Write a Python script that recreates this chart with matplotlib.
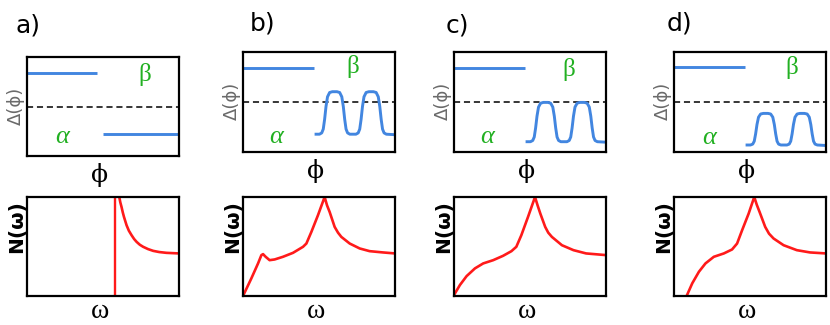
import matplotlib
matplotlib.use("Agg")
import matplotlib.pyplot as plt

W, H = 830, 325

panel_labels = ["a)", "b)", "c)", "d)"]

# ---- top panels: gap function Delta(phi) (axes-fraction units) ----
beta_line_x = [[0.0, 0.463], [0.0, 0.465], [0.0, 0.468], [0.0, 0.466]]
beta_line_y = [0.839, 0.833, 0.833, 0.85]
dash_level = [0.49, 0.493, 0.493, 0.50]

# panel a: flat alpha gap
alpha_a_x = [0.502, 1.0]
alpha_a_y = [0.221, 0.221]

# panels b-d: oscillating alpha gap
osc_x = [0.471, 0.503, 0.518, 0.528, 0.537, 0.546, 0.556, 0.570, 0.588, 0.618,
         0.636, 0.650, 0.660, 0.669, 0.678, 0.688, 0.703, 0.743, 0.758, 0.768,
         0.777, 0.786, 0.796, 0.810, 0.828, 0.858, 0.876, 0.890, 0.900, 0.909,
         0.918, 0.928, 0.943, 1.0]
osc_b = [0.175, 0.175, 0.188, 0.226, 0.324, 0.451, 0.549, 0.592, 0.600, 0.600,
         0.592, 0.549, 0.451, 0.324, 0.226, 0.188, 0.175, 0.175, 0.188, 0.226,
         0.324, 0.451, 0.549, 0.592, 0.600, 0.600, 0.592, 0.549, 0.451, 0.324,
         0.226, 0.188, 0.175, 0.170]
osc_c = [0.100, 0.100, 0.112, 0.147, 0.238, 0.355, 0.446, 0.485, 0.493, 0.493,
         0.485, 0.446, 0.355, 0.238, 0.147, 0.112, 0.100, 0.100, 0.112, 0.147,
         0.238, 0.355, 0.446, 0.485, 0.493, 0.493, 0.485, 0.446, 0.355, 0.238,
         0.147, 0.112, 0.100, 0.095]
osc_d = [0.067, 0.067, 0.076, 0.105, 0.178, 0.272, 0.345, 0.377, 0.383, 0.383,
         0.377, 0.345, 0.272, 0.178, 0.105, 0.076, 0.067, 0.067, 0.076, 0.105,
         0.178, 0.272, 0.345, 0.377, 0.383, 0.383, 0.377, 0.345, 0.272, 0.178,
         0.105, 0.076, 0.067, 0.062]

# ---- bottom panels: density of states N(omega) ----
dos_a_vline = 0.579
dos_a_x = [0.600, 0.607, 0.614, 0.622, 0.630, 0.638, 0.655, 0.670, 0.688, 0.705,
           0.721, 0.742, 0.764, 0.796, 0.830, 0.870, 0.917, 1.0]
dos_a_y = [1.10, 1.0, 0.945, 0.899, 0.845, 0.799, 0.715, 0.660, 0.614, 0.575,
           0.547, 0.518, 0.497, 0.474, 0.456, 0.444, 0.436, 0.430]

dos_b_x = [0.0, 0.055, 0.099, 0.121, 0.132, 0.149, 0.175, 0.208, 0.263, 0.329, 0.395,
           0.417, 0.450, 0.493, 0.537, 0.553, 0.570, 0.603, 0.625, 0.647, 0.702,
           0.768, 0.833, 0.921, 1.0]
dos_b_y = [0.0, 0.178, 0.329, 0.413, 0.423, 0.396, 0.362, 0.369, 0.396, 0.436, 0.497,
           0.530, 0.648, 0.815, 1.0, 0.915, 0.849, 0.698, 0.640, 0.597, 0.530,
           0.480, 0.453, 0.440, 0.430]

dos_c_x = [0.0, 0.039, 0.083, 0.138, 0.192, 0.258, 0.323, 0.378, 0.410, 0.443, 0.487,
           0.533, 0.550, 0.568, 0.600, 0.620, 0.644, 0.710, 0.786, 0.869, 1.0]
dos_c_y = [0.01, 0.111, 0.201, 0.279, 0.329, 0.362, 0.406, 0.453, 0.497, 0.614, 0.799,
           1.0, 0.915, 0.832, 0.698, 0.640, 0.597, 0.513, 0.463, 0.430, 0.413]

dos_d_x = [0.083, 0.120, 0.164, 0.207, 0.262, 0.328, 0.382, 0.415, 0.448, 0.491, 0.528,
           0.545, 0.563, 0.600, 0.625, 0.655, 0.721, 0.808, 0.895, 1.0]
dos_d_y = [0.0, 0.128, 0.245, 0.329, 0.396, 0.430, 0.470, 0.530, 0.664, 0.832, 1.0,
           0.920, 0.849, 0.698, 0.630, 0.581, 0.513, 0.463, 0.440, 0.430]

# ---- layout (pixels) ----
col_left = [27, 243, 454, 674]
col_w = 152
top_y = [(57, 156), (51.7, 151.7), (51.7, 151.7), (51.7, 151.7)]
bot_y = (197, 296)
label_pos = [(28, 26), (263, 23), (457, 26), (679, 23)]
beta_pos = [(0.776, 0.82), (0.72, 0.85), (0.757, 0.82), (0.776, 0.84)]
alpha_pos = [(0.23, 0.19), (0.217, 0.15), (0.22, 0.15), (0.23, 0.14)]

BLUE = "#4286e0"
RED = "#ff1a1a"
GREEN = "#22b022"

fig = plt.figure(figsize=(W / 100, H / 100), dpi=100)


def add_ax(left, top, bottom):
    ax = fig.add_axes([left / W, 1 - bottom / H, col_w / W, (bottom - top) / H])
    ax.set_xlim(0, 1)
    ax.set_ylim(0, 1)
    ax.set_xticks([])
    ax.set_yticks([])
    for s in ax.spines.values():
        s.set_linewidth(1.6)
        s.set_color("black")
    return ax


osc_list = [None, osc_b, osc_c, osc_d]
dos_list = [None, (dos_b_x, dos_b_y), (dos_c_x, dos_c_y), (dos_d_x, dos_d_y)]

for i in range(4):
    L = col_left[i]
    t, b = top_y[i]
    axt = add_ax(L, t, b)
    axt.plot(beta_line_x[i], [beta_line_y[i]] * 2, color=BLUE, lw=2.1,
             solid_capstyle="butt")
    axt.axhline(dash_level[i], color="black", lw=1.1, dashes=(4, 2.5))
    if i == 0:
        axt.plot(alpha_a_x, alpha_a_y, color=BLUE, lw=2.1, solid_capstyle="butt")
    else:
        axt.plot(osc_x, osc_list[i], color=BLUE, lw=2.1, solid_capstyle="butt",
                 solid_joinstyle="round")
    axt.text(*beta_pos[i], "β", transform=axt.transAxes, color=GREEN,
             fontsize=18, family="Liberation Serif", ha="center", va="center")
    axt.text(*alpha_pos[i], "α", transform=axt.transAxes, color=GREEN,
             fontsize=19, family="Liberation Serif", style="italic",
             ha="center", va="center")

    axb = add_ax(L, bot_y[0], bot_y[1])
    if i == 0:
        axb.axvline(dos_a_vline, color=RED, lw=1.7)
        axb.plot(dos_a_x, dos_a_y, color=RED, lw=1.9, solid_joinstyle="round")
    else:
        axb.plot(*dos_list[i], color=RED, lw=1.9, solid_joinstyle="round")

    # axis labels
    fig.text((L - 11) / W, 1 - ((t + b) / 2 - 1) / H, "Δ(ϕ)", rotation=90,
             color="#6a6a6a", fontsize=13, family="DejaVu Sans",
             ha="center", va="center")
    fig.text((L + col_w / 2 - 3) / W, 1 - (b + 19) / H, "ϕ", fontsize=18,
             family="DejaVu Serif", ha="center", va="center")
    fig.text((L - 10) / W, 1 - 227 / H, "N(ω)", rotation=90, fontsize=14.5,
             family="DejaVu Sans", weight="bold", ha="center", va="center")
    fig.text((L + col_w / 2 - 3) / W, 1 - 312 / H, "ω", fontsize=20,
             family="Liberation Serif", ha="center", va="center")

    fig.text(label_pos[i][0] / W, 1 - label_pos[i][1] / H, panel_labels[i],
             fontsize=18, family="DejaVu Sans", ha="center", va="center")

fig.savefig("out.png", dpi=100)
